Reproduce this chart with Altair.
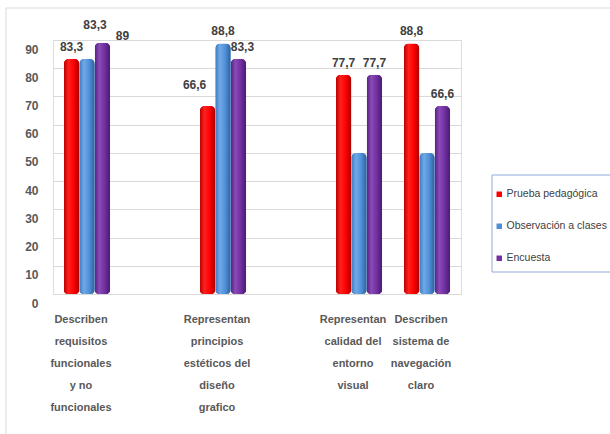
import altair as alt
import pandas as pd

categories = [
    "Describen\nrequisitos\nfuncionales\ny no\nfuncionales",
    "Representan\nprincipios\nestéticos del\ndiseño\ngrafico",
    "Representan\ncalidad del\nentorno\nvisual",
    "Describen\nsistema de\nnavegación\nclaro",
]
series = ["Prueba pedagógica", "Observación a clases", "Encuesta"]
prueba = [83.3, 66.6, 77.7, 88.8]
observacion = [83.3, 88.8, 50.0, 50.0]
encuesta = [89.0, 83.3, 77.7, 66.6]
prueba_labels = ["83,3", "66,6", "77,7", "88,8"]
observacion_labels = ["83,3", "88,8", "", ""]
encuesta_labels = ["89", "83,3", "77,7", "66,6"]
colors = ["#FF0000", "#4F8FD6", "#7030A0"]
y_ticks = [0, 10, 20, 30, 40, 50, 60, 70, 80, 90]

# spacer slots reproduce the uneven spacing between groups
x_domain = [categories[0], " ", categories[1], "  ", categories[2], categories[3]]

rows = []
for s, vals, labs in zip(series, [prueba, observacion, encuesta],
                         [prueba_labels, observacion_labels, encuesta_labels]):
    for i, (c, v, l) in enumerate(zip(categories, vals, labs)):
        rows.append({"cat": c, "idx": i, "serie": s, "valor": v, "etiqueta": l})
df = pd.DataFrame(rows)

FONT = "Liberation Sans, Arial, sans-serif"
W, H = 408, 254

x_enc = alt.X(
    "cat:N",
    scale=alt.Scale(domain=x_domain, paddingInner=0.32, paddingOuter=0.16),
    axis=alt.Axis(
        title=None, ticks=False, domain=False, labelAngle=0,
        labelExpr="split(datum.label, '\\n')",
        labelFont=FONT, labelFontSize=11, labelFontWeight="bold",
        labelColor="#595959", labelLineHeight=22, labelPadding=25,
        labelOffset=-6, labelBaseline="middle",
    ),
)
xo_enc = alt.XOffset("serie:N", scale=alt.Scale(domain=series, paddingInner=0, paddingOuter=0))
y_enc = alt.Y(
    "valor:Q",
    scale=alt.Scale(domain=[0, 90], nice=False, zero=True),
    axis=alt.Axis(
        title=None, values=y_ticks, ticks=False, domain=False,
        labelFont=FONT, labelFontSize=12, labelFontWeight="bold",
        labelColor="#595959", labelPadding=15, labelOffset=9,
        gridColor="#D9D9D9", gridWidth=1,
    ),
)

base = alt.Chart(df)

bars = base.mark_bar(
    cornerRadiusTopLeft=5, cornerRadiusTopRight=5,
    cornerRadiusBottomLeft=4, cornerRadiusBottomRight=4,
).encode(
    x=x_enc, xOffset=xo_enc, y=y_enc,
    color=alt.Color(
        "serie:N",
        scale=alt.Scale(domain=series, range=colors),
        legend=alt.Legend(
            title=None, orient="none", legendX=441, legendY=149,
            symbolType="square", symbolSize=30, symbolStrokeWidth=0,
            labelFont=FONT, labelFontSize=10.5, labelColor="#404040",
            rowPadding=21, labelOffset=2, padding=0,
        ),
    ),
)

grads = [
    [("#B80000", 0), ("#FF2020", 0.3), ("#FF0000", 0.65), ("#A80000", 1)],
    [("#3E78BE", 0), ("#6FA9E8", 0.3), ("#4F8FD6", 0.65), ("#2E5E9C", 1)],
    [("#55207F", 0), ("#8A4AB8", 0.3), ("#7030A0", 0.65), ("#4A1A70", 1)],
]
grad_layers = []
for s, g in zip(series, grads):
    grad_layers.append(
        base.transform_filter(alt.datum.serie == s).mark_bar(
            cornerRadiusTopLeft=5, cornerRadiusTopRight=5,
            cornerRadiusBottomLeft=4, cornerRadiusBottomRight=4,
            color=alt.LinearGradient(
                gradient="linear", x1=0, x2=1, y1=0, y2=0,
                stops=[alt.GradientStop(color=c, offset=o) for c, o in g],
            ),
        ).encode(x=x_enc, xOffset=xo_enc, y=y_enc)
    )

special = (
    ((alt.datum.idx == 0) & (alt.datum.serie == series[1]))
    | ((alt.datum.idx == 0) & (alt.datum.serie == series[2]))
    | ((alt.datum.idx == 1) & (alt.datum.serie == series[0]))
    | ((alt.datum.idx == 1) & (alt.datum.serie == series[2]))
)

text_style = dict(font=FONT, fontSize=12, fontWeight="bold", color="#404040", baseline="middle")

labels = base.transform_filter(
    (alt.datum.etiqueta != "") & ~special
).mark_text(dy=-12, **text_style).encode(x=x_enc, xOffset=xo_enc, y=y_enc, text="etiqueta:N")

lab_b = base.transform_filter((alt.datum.idx == 0) & (alt.datum.serie == series[1])).mark_text(
    dx=8, dy=-34, **text_style).encode(x=x_enc, xOffset=xo_enc, y=y_enc, text="etiqueta:N")
lab_p = base.transform_filter((alt.datum.idx == 0) & (alt.datum.serie == series[2])).mark_text(
    dx=20, dy=-7, **text_style).encode(x=x_enc, xOffset=xo_enc, y=y_enc, text="etiqueta:N")
lab_r = base.transform_filter((alt.datum.idx == 1) & (alt.datum.serie == series[0])).mark_text(
    dx=-13, dy=-21, **text_style).encode(x=x_enc, xOffset=xo_enc, y=y_enc, text="etiqueta:N")
lab_p2 = base.transform_filter((alt.datum.idx == 1) & (alt.datum.serie == series[2])).mark_text(
    dx=4, dy=-12, **text_style).encode(x=x_enc, xOffset=xo_enc, y=y_enc, text="etiqueta:N")

frame = alt.Chart(pd.DataFrame({"k": [0]})).mark_rect(
    fill=None, stroke="#D9D9D9", strokeWidth=1
).encode(x=alt.value(-47), x2=alt.value(580), y=alt.value(-32), y2=alt.value(420))

legend_box = alt.Chart(pd.DataFrame({"k": [0]})).mark_rect(
    fill="white", stroke="#8FAADC", strokeWidth=1
).encode(x=alt.value(439), x2=alt.value(600), y=alt.value(135), y2=alt.value(232))

chart = alt.layer(
    frame, legend_box, bars, *grad_layers, labels, lab_b, lab_p, lab_r, lab_p2
).properties(
    width=W, height=H,
    autosize=alt.AutoSizeParams(type="none"),
    padding={"left": 53, "top": 40, "right": 149, "bottom": 140},
).configure_view(stroke=None).configure(background="white")

chart.save("out.html", embed_options={"renderer": "svg", "actions": False})
